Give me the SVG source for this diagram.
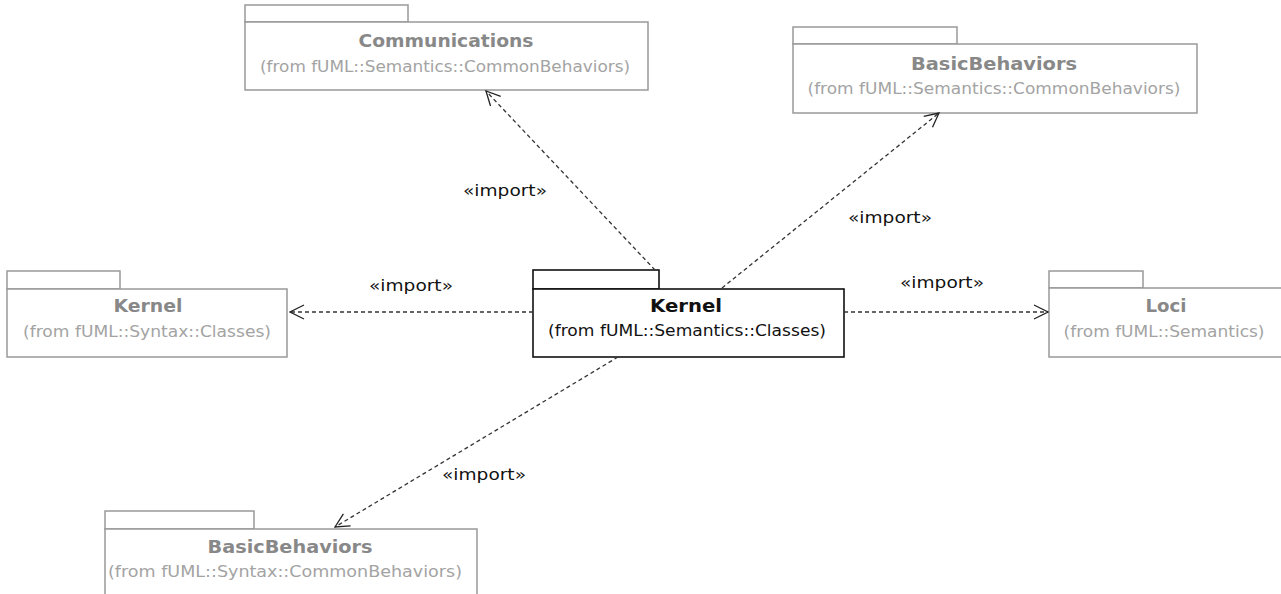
<svg xmlns="http://www.w3.org/2000/svg" width="1281" height="594" viewBox="0 0 1281 594">
<defs>
<marker id="open" viewBox="0 0 16 16" refX="15" refY="8" markerWidth="16" markerHeight="16" markerUnits="userSpaceOnUse" orient="auto">
<path d="M1,1 L15,8 L1,15" fill="none" stroke="#222" stroke-width="1.3"/>
</marker>
<style>
.g rect{fill:#fff;stroke:#999;stroke-width:1.5}
.k rect{fill:#fff;stroke:#111;stroke-width:1.6}
.t{font-family:"DejaVu Sans",sans-serif;font-size:18.5px;font-weight:bold;text-anchor:middle}
.s{font-family:"DejaVu Sans",sans-serif;font-size:16.5px;text-anchor:middle}
.g .t{fill:#888}
.g .s{fill:#a3a3a3}
.k .t,.k .s{fill:#111}
.c line{stroke:#333;stroke-width:1.3;stroke-dasharray:4,3;marker-end:url(#open)}
.lbl{font-family:"DejaVu Sans",sans-serif;font-size:16.5px;fill:#111;text-anchor:middle}
</style>
</defs>
<rect width="1281" height="594" fill="#fff"/>
<g id="communications" class="g">
<rect x="245" y="5" width="163" height="17"/>
<rect x="245" y="22" width="403" height="68"/>
<text class="t" x="446" y="47" textLength="175" lengthAdjust="spacingAndGlyphs">Communications</text>
<text class="s" x="445" y="72" textLength="370" lengthAdjust="spacingAndGlyphs">(from fUML::Semantics::CommonBehaviors)</text>
</g>
<g id="basicbehaviors-semantics" class="g">
<rect x="793" y="27" width="164" height="17"/>
<rect x="793" y="44" width="404" height="69"/>
<text class="t" x="994" y="70" textLength="166" lengthAdjust="spacingAndGlyphs">BasicBehaviors</text>
<text class="s" x="994" y="94" textLength="373" lengthAdjust="spacingAndGlyphs">(from fUML::Semantics::CommonBehaviors)</text>
</g>
<g id="kernel-syntax" class="g">
<rect x="7" y="271" width="113" height="18"/>
<rect x="7" y="289" width="280" height="68"/>
<text class="t" x="148" y="312" textLength="69" lengthAdjust="spacingAndGlyphs">Kernel</text>
<text class="s" x="147" y="337" textLength="248" lengthAdjust="spacingAndGlyphs">(from fUML::Syntax::Classes)</text>
</g>
<g id="kernel-semantics" class="k">
<rect x="533" y="270" width="126" height="19"/>
<rect x="533" y="289" width="311" height="68"/>
<text class="t" x="686" y="312" textLength="72" lengthAdjust="spacingAndGlyphs">Kernel</text>
<text class="s" x="687" y="336" textLength="278" lengthAdjust="spacingAndGlyphs">(from fUML::Semantics::Classes)</text>
</g>
<g id="loci" class="g">
<rect x="1049" y="271" width="94" height="17"/>
<rect x="1049" y="288" width="240" height="69"/>
<text class="t" x="1166" y="312" textLength="41" lengthAdjust="spacingAndGlyphs">Loci</text>
<text class="s" x="1164" y="337" textLength="201" lengthAdjust="spacingAndGlyphs">(from fUML::Semantics)</text>
</g>
<g id="basicbehaviors-syntax" class="g">
<rect x="105" y="511" width="149" height="18"/>
<rect x="105" y="529" width="372" height="80"/>
<text class="t" x="290" y="553" textLength="165" lengthAdjust="spacingAndGlyphs">BasicBehaviors</text>
<text class="s" x="285" y="577" textLength="354" lengthAdjust="spacingAndGlyphs">(from fUML::Syntax::CommonBehaviors)</text>
</g>
<g id="connectors" class="c">
<line x1="655" y1="270" x2="486" y2="91"/>
<line x1="722" y1="288" x2="939" y2="113"/>
<line x1="533" y1="312" x2="290" y2="312"/>
<line x1="844" y1="312" x2="1048" y2="312"/>
<line x1="618" y1="357" x2="335" y2="527"/>
<text class="lbl" x="505" y="196" textLength="84" lengthAdjust="spacingAndGlyphs">«import»</text>
<text class="lbl" x="890" y="223" textLength="84" lengthAdjust="spacingAndGlyphs">«import»</text>
<text class="lbl" x="411" y="291" textLength="84" lengthAdjust="spacingAndGlyphs">«import»</text>
<text class="lbl" x="942" y="288" textLength="84" lengthAdjust="spacingAndGlyphs">«import»</text>
<text class="lbl" x="484" y="480" textLength="84" lengthAdjust="spacingAndGlyphs">«import»</text>
</g>
</svg>
